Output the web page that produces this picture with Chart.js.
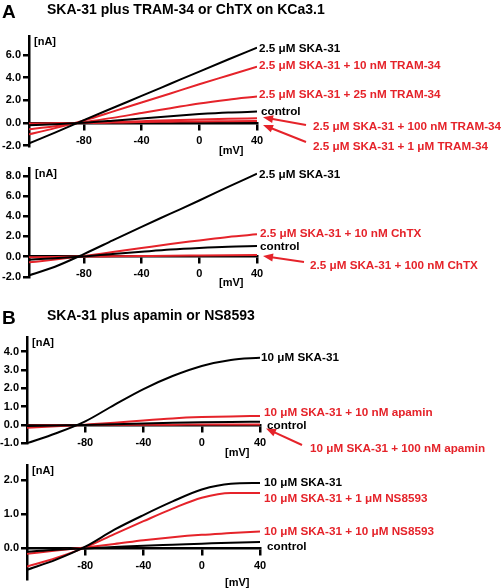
<!DOCTYPE html>
<html>
<head>
<meta charset="utf-8">
<script src="https://cdn.jsdelivr.net/npm/chart.js@4.4.1/dist/chart.umd.min.js"></script>
<style>
  body { margin: 0; background: #fff; }
  #wrap { position: relative; width: 504px; height: 588px; overflow: hidden;
          font-family: "Liberation Sans", Arial, sans-serif; font-weight: bold; }
  canvas { position: absolute; left: 0; top: 0; }
  .t { position: absolute; white-space: nowrap; line-height: 14px; font-size: 11.7px; }
</style>
</head>
<body>
<div id="wrap">
  <canvas id="pA1" width="504" height="588"></canvas>
  <canvas id="pA2" width="504" height="588"></canvas>
  <canvas id="pB1" width="504" height="588"></canvas>
  <canvas id="pB2" width="504" height="588"></canvas>
</div>
<script>
const RED = "#e5232a";
const BLACK = "#000000";

// voltage ramp points [mV]
const mV = [-120, -100, -80, -60, -40, -20, 0, 20, 40];
const xTicks = [-80, -40, 0, 40];

// A, top: SKA-31 plus TRAM-34 [nA]
const aControl  = [-0.20, -0.10, 0.02, 0.20, 0.40, 0.60, 0.78, 0.92, 1.00];
const aSka31    = [-1.90, -0.85, 0.25, 1.32, 2.38, 3.45, 4.52, 5.58, 6.63];
const aTram10   = [-1.05, -0.45, 0.22, 1.00, 1.80, 2.60, 3.40, 4.18, 4.96];
const aTram25   = [-0.58, -0.28, 0.08, 0.45, 0.88, 1.30, 1.72, 2.05, 2.32];
const aTram100  = [-0.12, -0.06, 0.00, 0.08, 0.16, 0.24, 0.31, 0.37, 0.41];
const aTram1000 = [-0.05, -0.02, 0.00, 0.04, 0.08, 0.11, 0.14, 0.16, 0.18];
const aYTicks = [-2, 0, 2, 4, 6];

// A, bottom: SKA-31 plus ChTX [nA]
const bControl = [-0.32, -0.16, 0.02, 0.25, 0.48, 0.70, 0.86, 0.98, 1.04];
const bSka31   = [-1.95, -1.00, 0.25, 1.60, 2.95, 4.25, 5.55, 6.90, 8.20];
const bChtx10  = [-0.60, -0.30, 0.05, 0.45, 0.85, 1.25, 1.60, 1.95, 2.20];
const bChtx100 = [-0.08, -0.04, 0.00, 0.03, 0.06, 0.09, 0.11, 0.13, 0.15];
const bYTicks = [-2, 0, 2, 4, 6, 8];

// B, top: SKA-31 plus apamin [nA]
const cControl = [-0.06, -0.03, 0.00, 0.04, 0.08, 0.12, 0.15, 0.17, 0.18];
const cSka31   = [-1.00, -0.45, 0.20, 1.10, 1.96, 2.67, 3.22, 3.55, 3.67];
const cApa10   = [-0.15, -0.07, 0.02, 0.12, 0.25, 0.36, 0.43, 0.47, 0.49];
const cApa100  = [-0.04, -0.02, 0.00, 0.01, 0.02, 0.02, 0.03, 0.03, 0.03];
const cYTicks = [-1, 0, 1, 2, 3, 4];

// B, bottom: SKA-31 plus NS8593 [nA]
const dControl = [-0.10, -0.04, 0.00, 0.04, 0.08, 0.11, 0.14, 0.17, 0.19];
const dSka31   = [-0.63, -0.33, 0.05, 0.55, 0.98, 1.38, 1.73, 1.90, 1.92];
const dNs1     = [-0.53, -0.28, 0.03, 0.42, 0.80, 1.17, 1.49, 1.63, 1.63];
const dNs10    = [-0.16, -0.06, 0.03, 0.13, 0.24, 0.33, 0.40, 0.45, 0.50];
const dYTicks = [0, 1, 2];

const wrap = document.getElementById("wrap");

function addText(text, x, y, opts) {
  const d = document.createElement("div");
  d.className = "t";
  d.textContent = text;
  d.style.left = x + "px";
  d.style.top = (y - 7) + "px";
  if (opts && opts.color) d.style.color = opts.color;
  if (opts && opts.size) d.style.fontSize = opts.size + "px";
  if (opts && opts.lh) { d.style.lineHeight = opts.lh + "px"; d.style.top = (y - opts.lh / 2) + "px"; }
  wrap.appendChild(d);
  return d;
}

// arrows from a label to the end of a trace
const arrowPlugin = {
  id: "arrows",
  afterDraw(chart, args, opts) {
    const { ctx, scales } = chart;
    (opts.list || []).forEach(a => {
      const tx = scales.x.getPixelForValue(40) + 6;
      const ty = scales.y.getPixelForValue(a.value) + (a.dy || 0);
      const [fx, fy] = a.from;
      const ang = Math.atan2(ty - fy, tx - fx);
      ctx.save();
      ctx.strokeStyle = RED;
      ctx.fillStyle = RED;
      ctx.lineWidth = 2;
      ctx.beginPath();
      ctx.moveTo(fx, fy);
      ctx.lineTo(tx - 7 * Math.cos(ang), ty - 7 * Math.sin(ang));
      ctx.stroke();
      ctx.beginPath();
      ctx.moveTo(tx, ty);
      ctx.lineTo(tx - 10 * Math.cos(ang) + 4 * Math.sin(ang), ty - 10 * Math.sin(ang) - 4 * Math.cos(ang));
      ctx.lineTo(tx - 10 * Math.cos(ang) - 4 * Math.sin(ang), ty - 10 * Math.sin(ang) + 4 * Math.cos(ang));
      ctx.closePath();
      ctx.fill();
      ctx.restore();
    });
  }
};

const tickFont = { family: "'Liberation Sans', Arial, sans-serif", size: 11, weight: "bold" };

function makePanel(id, p) {
  return new Chart(document.getElementById(id), {
    type: "line",
    data: {
      datasets: p.series.map(s => ({
        data: mV.map((v, i) => ({ x: v, y: s.values[i] })),
        borderColor: s.color,
        borderWidth: 2,
        pointRadius: 0,
        cubicInterpolationMode: "monotone"
      }))
    },
    plugins: [arrowPlugin],
    options: {
      responsive: false,
      animation: false,
      events: [],
      layout: { padding: { left: 0, right: 504 - p.right, top: p.top, bottom: 588 - p.bottom } },
      plugins: {
        legend: { display: false },
        tooltip: { enabled: false },
        arrows: { list: p.arrows || [] }
      },
      scales: {
        x: {
          type: "linear",
          position: { y: 0 },
          min: p.xMin,
          max: 40,
          afterFit: s => { s.height = 0; },
          afterBuildTicks: s => { s.ticks = xTicks.map(v => ({ value: v })); },
          grid: { drawOnChartArea: false, tickLength: 6, lineWidth: 2.5, color: BLACK },
          border: { width: 2.5, color: BLACK },
          ticks: { color: BLACK, font: tickFont, padding: 5, maxRotation: 0 }
        },
        y: {
          type: "linear",
          position: "left",
          min: p.yMin,
          max: p.yMax,
          afterFit: s => { s.width = p.left; },
          afterBuildTicks: s => { s.ticks = p.yTicks.map(v => ({ value: v })); },
          grid: { drawOnChartArea: false, tickLength: 6, lineWidth: 2.5, color: BLACK },
          border: { width: 2.5, color: BLACK },
          ticks: { color: BLACK, font: tickFont, padding: 2, callback: v => v.toFixed(1) }
        }
      }
    }
  });
}

makePanel("pA1", {
  left: 29, right: 257, top: 36, bottom: 146.3, xMin: -118, yMin: -2.05, yMax: 7.65, yTicks: aYTicks,
  series: [
    { values: aControl, color: BLACK }, { values: aSka31, color: BLACK },
    { values: aTram10, color: RED }, { values: aTram25, color: RED },
    { values: aTram100, color: RED }, { values: aTram1000, color: RED }
  ],
  arrows: [{ value: aTram100[8], dy: -1, from: [306, 125] }, { value: aTram1000[8], dy: 4, from: [306, 142] }]
});

makePanel("pA2", {
  left: 29, right: 257, top: 168.2, bottom: 277, xMin: -118, yMin: -2.02, yMax: 8.75, yTicks: bYTicks,
  series: [
    { values: bControl, color: BLACK }, { values: bSka31, color: BLACK },
    { values: bChtx10, color: RED }, { values: bChtx100, color: RED }
  ],
  arrows: [{ value: bChtx100[8], dy: 1, from: [304, 262] }]
});

makePanel("pB1", {
  left: 27, right: 260, top: 337, bottom: 443.7, xMin: -120, yMin: -1.02, yMax: 4.8, yTicks: cYTicks,
  series: [
    { values: cControl, color: BLACK }, { values: cSka31, color: BLACK },
    { values: cApa10, color: RED }, { values: cApa100, color: RED }
  ],
  arrows: [{ value: cApa100[8], dy: 4, from: [302, 445] }]
});

makePanel("pB2", {
  left: 27, right: 260, top: 465, bottom: 581.6, xMin: -120, yMin: -0.91, yMax: 2.45, yTicks: dYTicks,
  series: [
    { values: dControl, color: BLACK }, { values: dSka31, color: BLACK },
    { values: dNs10, color: RED }, { values: dNs1, color: RED }
  ]
});

// panel letters and titles
addText("A", 2, 12, { size: 19, lh: 22 });
addText("SKA-31 plus TRAM-34 or ChTX on KCa3.1", 47, 9, { size: 14, lh: 18 });
addText("B", 2, 318, { size: 19, lh: 22 });
addText("SKA-31 plus apamin or NS8593", 47, 315, { size: 14, lh: 18 });

// axis units
[[34, 41], [35, 173.3], [32, 341.7], [32, 470]].forEach(([x, y]) => addText("[nA]", x, y, { size: 11 }));
[[219, 150], [219, 282.3], [225, 451.7], [225, 581.7]].forEach(([x, y]) => addText("[mV]", x, y, { size: 11 }));

// trace labels
const traceLabels = [
  ["2.5 \u03bcM SKA-31", BLACK, 259, 48],
  ["2.5 \u03bcM SKA-31 + 10 nM TRAM-34", RED, 259, 65],
  ["2.5 \u03bcM SKA-31 + 25 nM TRAM-34", RED, 259, 94],
  ["control", BLACK, 261, 110.5],
  ["2.5 \u03bcM SKA-31 + 100 nM TRAM-34", RED, 313, 126],
  ["2.5 \u03bcM SKA-31 + 1 \u03bcM TRAM-34", RED, 313, 146],
  ["2.5 \u03bcM SKA-31", BLACK, 259, 173.5],
  ["2.5 \u03bcM SKA-31 + 10 nM ChTX", RED, 260, 232.7],
  ["control", BLACK, 260, 246],
  ["2.5 \u03bcM SKA-31 + 100 nM ChTX", RED, 310, 265],
  ["10 \u03bcM SKA-31", BLACK, 261, 356.7],
  ["10 \u03bcM SKA-31 + 10 nM apamin", RED, 264, 411.7],
  ["control", BLACK, 267, 424.5],
  ["10 \u03bcM SKA-31 + 100 nM apamin", RED, 310, 448.3],
  ["10 \u03bcM SKA-31", BLACK, 264, 482.3],
  ["10 \u03bcM SKA-31 + 1 \u03bcM NS8593", RED, 264, 497.7],
  ["10 \u03bcM SKA-31 + 10 \u03bcM NS8593", RED, 264, 531],
  ["control", BLACK, 267, 545.7]
];
traceLabels.forEach(([text, color, x, y]) => addText(text, x, y, { color }));
</script>
</body>
</html>
